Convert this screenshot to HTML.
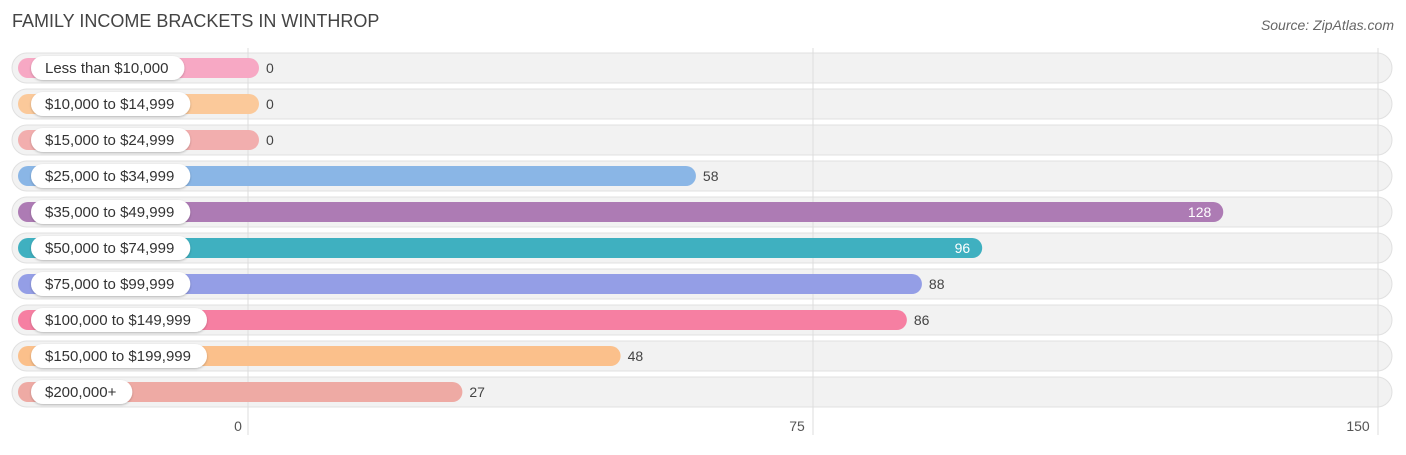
<!DOCTYPE html>
<html><head><meta charset="utf-8"><style>
body{margin:0;background:#fff;font-family:"Liberation Sans",sans-serif}
svg text{font-family:"Liberation Sans",sans-serif}
</style></head><body>
<svg id="c" width="1406" height="450">
<defs><filter id="sh" x="-10%" y="-30%" width="120%" height="160%"><feDropShadow dx="0" dy="1" stdDeviation="1" flood-color="#000" flood-opacity="0.25"/></filter></defs>
<text x="12" y="27" font-size="18" fill="#444">FAMILY INCOME BRACKETS IN WINTHROP</text>
<text x="1394" y="30" font-size="14" fill="#666" text-anchor="end" font-style="italic">Source: ZipAtlas.com</text>
</svg>
<script>
const categories=["Less than $10,000","$10,000 to $14,999","$15,000 to $24,999","$25,000 to $34,999","$35,000 to $49,999","$50,000 to $74,999","$75,000 to $99,999","$100,000 to $149,999","$150,000 to $199,999","$200,000+"];
const values=[0,0,0,58,128,96,88,86,48,27];
const colors=["#f7a8c4","#fbc99a","#f2aeae","#8ab6e6","#ad7bb4","#3fb0c0","#949ee6","#f67fa2","#fbc08b","#eeaaa4"];
const ticks=[0,75,150];
const svg=document.getElementById('c');
const NS="http://www.w3.org/2000/svg";
const x0=248,scale=565/75;
const xs=v=>x0+v*scale;
function mk(t,a){const e=document.createElementNS(NS,t);for(const k in a)e.setAttribute(k,a[k]);svg.appendChild(e);return e;}
categories.forEach((c,i)=>{
 const cy=68+i*36;
 const bg=mk('rect',{x:12,y:cy-15,width:1380,height:30,rx:15,fill:'#f2f2f2',stroke:'#e0e0e0','stroke-width':1});
 
 
});
ticks.forEach((t,i)=>{
 const g=mk('line',{x1:xs(t),x2:xs(t),y1:48,y2:435,stroke:'#ddd','stroke-width':1});
 
 
 const tx=mk('text',{x:xs(t)-(i==0?10:(i==2?20:16)),y:431,'font-size':14,fill:'#555','text-anchor':'middle'});
 tx.textContent=t;
 
 
});
categories.forEach((c,i)=>{
 const cy=68+i*36;
 const end=xs(values[i])+11;
 const b=mk('rect',{x:18,y:cy-10,width:end-18,height:20,rx:10,fill:colors[i]});
 
 
 const p=mk('rect',{x:31,y:cy-12,width:100,height:24,rx:12,fill:'#fff',filter:'url(#sh)'});
 
 
 const t=mk('text',{x:45,y:cy+5,'font-size':15,fill:'#333'});
 t.textContent=c;
 
 
 p.setAttribute('width',t.getComputedTextLength()+30);
 const inside=values[i]>90;
 const v=mk('text',{x:inside?end-12:end+7,y:cy+5,'font-size':14,fill:inside?'#fff':'#444','text-anchor':inside?'end':'start'});
 v.textContent=values[i];
 
 
});
</script>
</body></html>
